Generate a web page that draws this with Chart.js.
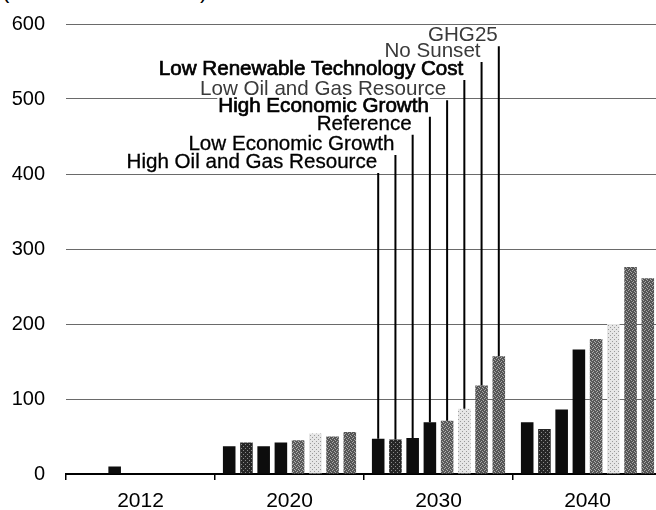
<!DOCTYPE html>
<html>
<head>
<meta charset="utf-8">
<script src="https://cdn.jsdelivr.net/npm/chart.js@4.4.0/dist/chart.umd.min.js"></script>
<style>
  html, body { margin: 0; padding: 0; background: #fff; overflow: hidden; width: 656px; height: 510px; }
  #wrap { position: relative; width: 656px; height: 510px; overflow: hidden; }
  #unit { position: absolute; left: 2px; top: -20px; font: 22px/22px "Liberation Sans", Arial, sans-serif; color: #000; white-space: nowrap; }
  canvas { position: absolute; left: 0; top: 0; display: block; }
</style>
</head>
<body>
<div id="wrap">
  <div id="unit">(billion kilowatthours)</div>
  <canvas id="c" width="662" height="510" style="width:662px;height:510px"></canvas>
</div>
<script>
// ---- data ----
const categories = ['2012', '2020', '2030', '2040'];
const seriesNames = [
  'High Oil and Gas Resource',
  'Low Economic Growth',
  'Reference',
  'High Economic Growth',
  'Low Oil and Gas Resource',
  'Low Renewable Technology Cost',
  'No Sunset',
  'GHG25'
];
const highOilGas      = [null, 37, 47, 69];
const lowEconGrowth   = [null, 42, 46, 60];
const reference       = [10,   37, 48, 86];
const highEconGrowth  = [null, 42, 69, 166];
const lowOilGas       = [null, 45, 71, 180];
const lowRenewCost    = [null, 54, 87, 200];
const noSunset        = [null, 50, 118, 276];
const ghg25           = [null, 56, 157, 261];
const yTicks = [0, 100, 200, 300, 400, 500, 600];

// label anchor heights (axis units) for the callout labels, bottom to top
const labelLevels = [408, 432, 459, 483, 505, 532, 556, 577];

// ---- styles ----
function pattern(base, dot, cells) {
  const c = document.createElement('canvas');
  c.width = 4; c.height = 4;
  const g = c.getContext('2d');
  g.fillStyle = base; g.fillRect(0, 0, 4, 4);
  g.fillStyle = dot;
  cells.forEach(p => g.fillRect(p[0], p[1], 1, 1));
  return g.createPattern(c, 'repeat');
}
const ctx = document.getElementById('c').getContext('2d');
const black = '#0d0d0d';
const darkStip = pattern('#262626', '#8a8a8a', [[1,0],[3,2]]);
const midStip = pattern('#5a5a5a', '#b0b0b0', [[0,0],[2,1],[1,3],[3,2]]);
const grayStip = pattern('#555555', '#a8a8a8', [[1,1],[3,0],[0,2],[2,3]]);
const lightStip = pattern('#e6e6e6', '#9a9a9a', [[0,1],[2,3]]);

const values = [highOilGas, lowEconGrowth, reference, highEconGrowth, lowOilGas, lowRenewCost, noSunset, ghg25];
const fills = [black, darkStip, black, black, midStip, lightStip, grayStip, grayStip];
const labelColors = ['#000', '#000', '#000', '#000', '#3a3a3a', '#000', '#3a3a3a', '#3a3a3a'];
const labelStroke = [0.3, 0.3, 0.3, 0.7, 0, 0.7, 0, 0];

const FONT = '"Liberation Sans", Arial, sans-serif';

const calloutPlugin = {
  id: 'callouts',
  afterDatasetsDraw(chart) {
    const g = chart.ctx;
    const ys = chart.scales.y;
    g.save();
    g.font = '20.6px ' + FONT;
    g.textAlign = 'right';
    g.textBaseline = 'alphabetic';
    for (let i = 0; i < seriesNames.length; i++) {
      const bar = chart.getDatasetMeta(i).data[2];
      const x = bar.x;
      const base = ys.getPixelForValue(labelLevels[i]);
      const w = g.measureText(seriesNames[i]).width;
      g.fillStyle = '#fff';
      g.fillRect(x - w - 2, base - 15, w + 2, 17);
      g.fillStyle = labelColors[i];
      g.fillText(seriesNames[i], x - 1, base);
      if (labelStroke[i] > 0) {
        g.lineWidth = labelStroke[i];
        g.strokeStyle = labelColors[i];
        g.strokeText(seriesNames[i], x - 1, base);
      }
      g.strokeStyle = '#000';
      g.lineWidth = 2;
      g.beginPath();
      g.moveTo(x, base + 5);
      g.lineTo(x, bar.y);
      g.stroke();
    }
    g.restore();
  }
};

new Chart(ctx, {
  type: 'bar',
  data: {
    labels: categories,
    datasets: seriesNames.map((n, i) => ({
      label: n,
      data: values[i],
      backgroundColor: fills[i],
      borderWidth: 0,
      categoryPercentage: 0.925,
      barPercentage: 0.73
    }))
  },
  options: {
    responsive: false,
    animation: false,
    devicePixelRatio: 1,
    layout: { padding: { top: 24, right: 0, left: 0, bottom: 0 } },
    plugins: { legend: { display: false }, tooltip: { enabled: false }, title: { display: false } },
    scales: {
      x: {
        offset: true,
        grid: { display: true, drawOnChartArea: false, drawTicks: true, tickLength: 6, color: '#000', lineWidth: 1.5, offset: true },
        border: { display: true, color: '#000', width: 2 },
        ticks: { color: '#000', font: { family: FONT, size: 21 }, padding: 9, maxRotation: 0 },
        afterFit(s) { s.height = 36; s.paddingLeft = 0; s.paddingRight = 0; }
      },
      y: {
        min: 0, max: 600,
        afterBuildTicks(s) { s.ticks = yTicks.map(v => ({ value: v })); },
        grid: { color: '#6a6a6a', lineWidth: 1, drawTicks: false },
        border: { display: false },
        ticks: { color: '#000', font: { family: FONT, size: 20 }, padding: 21 },
        afterFit(s) { s.width = 66; s.paddingTop = 0; s.paddingBottom = 0; }
      }
    }
  },
  plugins: [calloutPlugin]
});
</script>
</body>
</html>
